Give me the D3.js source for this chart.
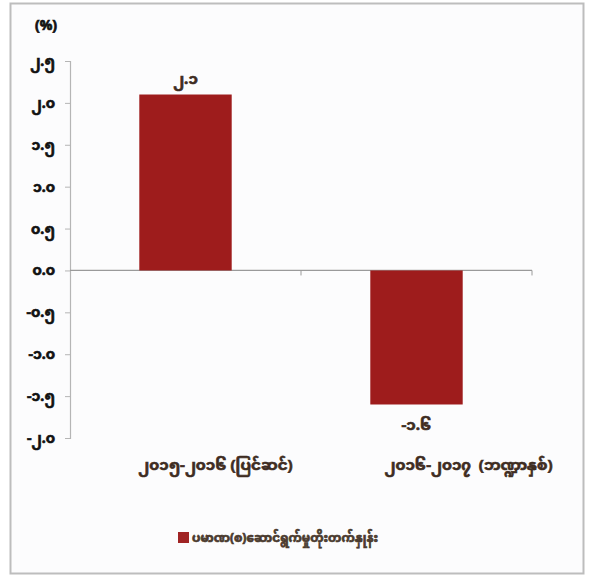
<!DOCTYPE html>
<html>
<head>
<meta charset="utf-8">
<script src="https://cdn.jsdelivr.net/npm/d3@7"></script>
<style>
  html, body { margin: 0; padding: 0; background: #ffffff; }
  svg { display: block; }
  text { font-family: "Noto Sans Myanmar", "Padauk", "Myanmar Text", "Noto Sans", "DejaVu Sans", sans-serif; }
</style>
</head>
<body>
<svg id="chart" width="589" height="576"></svg>
<script>
const categories = ["၂၀၁၅-၂၀၁၆ (ပြင်ဆင်)", "၂၀၁၆-၂၀၁၇\u00a0\u00a0(ဘဏ္ဍာနှစ်)"];
const values = [2.1, -1.6];
const valueLabels = ["၂.၁", "-၁.၆"];
const tickValues = [2.5, 2.0, 1.5, 1.0, 0.5, 0.0, -0.5, -1.0, -1.5, -2.0];
const tickLabels = ["၂.၅", "၂.၀", "၁.၅", "၁.၀", "၀.၅", "၀.၀", "-၀.၅", "-၁.၀", "-၁.၅", "-၂.၀"];
const seriesName = "ပမာဏ(စ)ဆောင်ရွက်မှုတိုးတက်နှုန်း";
const unitLabel = "(%)";

const svg = d3.select("#chart");
const W = 589, H = 576;

// outer frame
svg.append("rect").attr("x", 0).attr("y", 0).attr("width", W).attr("height", H).attr("fill", "#ffffff");
svg.append("rect").attr("x", 10.5).attr("y", 3.5).attr("width", 573).attr("height", 570)
  .attr("fill", "#fcfcfd").attr("stroke", "#bdbdbd").attr("stroke-width", 2);

const plot = { left: 70, right: 532, top: 61, bottom: 438 };

const y = d3.scaleLinear().domain([-2.0, 2.5]).range([plot.bottom, plot.top]);
const x = d3.scaleBand().domain(categories).range([plot.left, plot.right]).paddingInner(0.6).paddingOuter(0.3);

const barColor = "#9e1c1c";
const textColor = "#3e2c22";

function heavy(sel, color) {
  return sel.attr("fill", color).attr("stroke", color).attr("stroke-width", 0.7)
    .attr("font-weight", "bold");
}

// y axis
const yAxis = d3.axisLeft(y).tickValues(tickValues).tickSize(5).tickPadding(10)
  .tickFormat((d, i) => tickLabels[i]);
const gy = svg.append("g").attr("transform", `translate(${plot.left},0)`).call(yAxis);
gy.select(".domain").attr("stroke", "#b5b5b5").attr("stroke-width", 1.2);
gy.selectAll(".tick line").attr("stroke", "#b5b5b5");
heavy(gy.selectAll(".tick text").attr("font-size", 14), "#111");

// zero line (category axis)
svg.append("line").attr("x1", plot.left).attr("x2", plot.right)
  .attr("y1", y(0)).attr("y2", y(0)).attr("stroke", "#9a9a9a").attr("stroke-width", 1.2);
svg.append("line").attr("x1", plot.right).attr("x2", plot.right)
  .attr("y1", y(0)).attr("y2", y(0) + 5).attr("stroke", "#9a9a9a");
svg.append("line").attr("x1", (plot.left + plot.right) / 2).attr("x2", (plot.left + plot.right) / 2)
  .attr("y1", y(0)).attr("y2", y(0) + 5).attr("stroke", "#9a9a9a");

// bars
svg.selectAll("rect.bar").data(values).join("rect").attr("class", "bar")
  .attr("x", (d, i) => x(categories[i]))
  .attr("width", x.bandwidth())
  .attr("y", d => y(Math.max(0, d)))
  .attr("height", d => Math.abs(y(d) - y(0)))
  .attr("fill", barColor);

// value labels
heavy(svg.selectAll("text.val").data(values).join("text").attr("class", "val")
  .attr("x", (d, i) => x(categories[i]) + x.bandwidth() / 2)
  .attr("y", d => d >= 0 ? y(d) - 11 : y(d) + 26)
  .attr("text-anchor", "middle")
  .attr("font-size", 15)
  .text((d, i) => valueLabels[i]), textColor);

// category labels
heavy(svg.selectAll("text.cat").data(categories).join("text").attr("class", "cat")
  .attr("x", (d, i) => x(d) + x.bandwidth() / 2 + (i === 0 ? 30 : 52))
  .attr("y", 470)
  .attr("text-anchor", "middle")
  .attr("font-size", 15)
  .text(d => d), textColor);

// unit label
heavy(svg.append("text").attr("x", 46).attr("y", 30).attr("text-anchor", "middle")
  .attr("font-size", 14).text(unitLabel), "#111");

// legend
const lg = svg.append("g").attr("transform", "translate(178,532)");
lg.append("rect").attr("width", 11).attr("height", 11).attr("fill", "#a02424");
heavy(lg.append("text").attr("x", 14).attr("y", 10).attr("font-size", 12)
  .text(seriesName), "#4a3a2e");
</script>
</body>
</html>
